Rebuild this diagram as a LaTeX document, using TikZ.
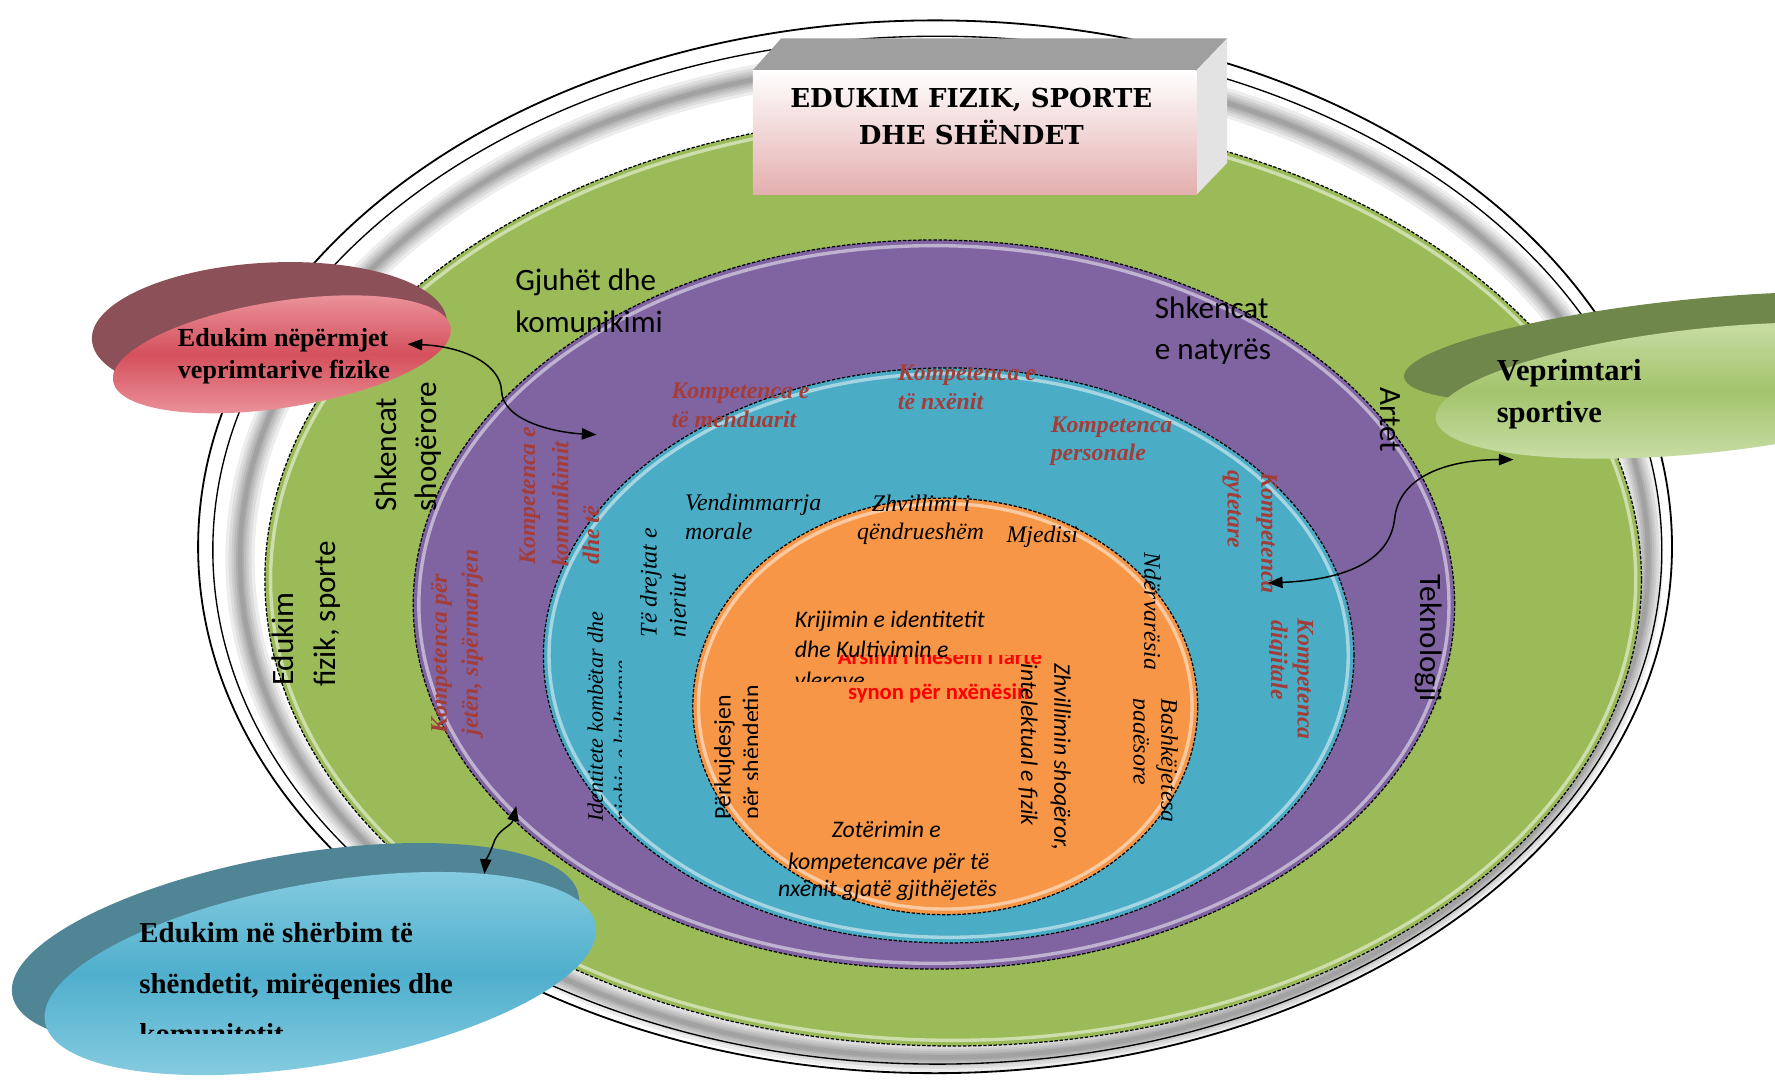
\documentclass[tikz,border=0pt]{standalone}
\usepackage{fontspec}
\setmainfont{Liberation Serif}
\newfontfamily\calfont{Carlito}
\newfontfamily\titlefont{DejaVu Serif}
\usetikzlibrary{arrows.meta}
\definecolor{cgreen}{HTML}{9BBB59}
\definecolor{cpurple}{HTML}{8064A2}
\definecolor{cblue}{HTML}{4BACC6}
\definecolor{corange}{HTML}{F79646}
\definecolor{ckomp}{HTML}{A33D3A}
\definecolor{cpink}{HTML}{E4AEAE}
\definecolor{redrim}{HTML}{8C5058}
\definecolor{redface}{HTML}{D4505C}
\definecolor{redlight}{HTML}{EE9AA2}
\definecolor{greenrim}{HTML}{70874C}
\definecolor{greenface}{HTML}{A3C46C}
\definecolor{greenlight}{HTML}{CDE0AC}
\definecolor{bluerim}{HTML}{4F8595}
\definecolor{blueface}{HTML}{4FAFCD}
\definecolor{bluelight}{HTML}{8CCFE2}
\begin{document}
\begin{tikzpicture}[x=1pt,y=-1pt,
  border/.style={draw=black, line width=1.1pt, dash pattern=on 3pt off 1.5pt},
  glowline/.style={draw=white, line width=3pt, opacity=0.5},
  sanslbl/.style={font=\calfont\fontsize{27.5}{32}\selectfont, inner sep=0pt},
  komp/.style={font=\bfseries\itshape\fontsize{21}{25}\selectfont, text=ckomp, inner sep=0pt},
  seri/.style={font=\itshape\fontsize{21}{25}\selectfont, inner sep=0pt},
  calit/.style={font=\calfont\itshape\fontsize{21}{25}\selectfont, inner sep=0pt},
  calup/.style={font=\calfont\fontsize{21}{25}\selectfont, inner sep=0pt},
  redc/.style={font=\calfont\bfseries\fontsize{20}{24}\selectfont, text=red, inner sep=0pt},
  disctxt/.style={font=\bfseries\fontsize{23}{27}\selectfont, inner sep=0pt, anchor=base west},
  ttl/.style={font=\titlefont\bfseries\fontsize{23}{27}\selectfont, inner sep=0pt, anchor=base},
  upr/.style={rotate=90, anchor=west},
  dnr/.style={rotate=-90, anchor=west},
  bw/.style={anchor=base west},
  link/.style={line width=1.3pt, {Triangle[length=13pt,width=10pt]}-{Triangle[length=13pt,width=10pt]}}
]
\useasboundingbox (0,0) rectangle (1568,955);
\fill[white] (0,0) rectangle (1568,955);

% outer white ring
\fill[white] (826,483) ellipse[x radius=651pt, y radius=465pt];
\foreach \w in {26,20,15,11,7,4} {
  \draw[black, line width=\w pt, opacity=0.07] (834,494) ellipse[x radius=622pt, y radius=440pt];
}
\draw[black, line width=1.6pt] (826,483) ellipse[x radius=651pt, y radius=465pt];
\draw[black, line width=1.2pt] (828,486) ellipse[x radius=640pt, y radius=454pt];

% green
\fill[cgreen] (842,512) ellipse[x radius=608pt, y radius=412pt];
\draw[glowline] (842,512) ellipse[x radius=603pt, y radius=407pt];
\draw[border] (842,512) ellipse[x radius=608pt, y radius=412pt];
% purple
\fill[cpurple] (825,534) ellipse[x radius=460pt, y radius=322pt];
\draw[glowline] (825,534) ellipse[x radius=455pt, y radius=317pt];
\draw[border] (825,534) ellipse[x radius=460pt, y radius=322pt];
% blue
\fill[cblue] (838,579) ellipse[x radius=358pt, y radius=254pt];
\draw[glowline] (838,579) ellipse[x radius=353pt, y radius=249pt];
\draw[border] (838,579) ellipse[x radius=358pt, y radius=254pt];
% orange
\fill[corange] (835,624) ellipse[x radius=223pt, y radius=184pt];
\draw[glowline] (835,624) ellipse[x radius=218pt, y radius=179pt];
\draw[border] (835,624) ellipse[x radius=223pt, y radius=184pt];

% green ring texts
\node[sanslbl,bw] (gj1) at (455,257) {Gjuhët dhe};
\node[sanslbl,bw] (gj2) at (455,294) {komunikimi};
\node[sanslbl,bw] (sn1) at (1020,281) {Shkencat};
\node[sanslbl,bw] (sn2) at (1020,318) {e natyrës};
\node[sanslbl,dnr] (art) at (1228,342) {Artet};
\node[sanslbl,dnr] (tek) at (1262,507) {Teknologji};
\node[sanslbl,upr] (ss1) at (341,452) {Shkencat};
\node[sanslbl,upr] (ss2) at (378,452) {shoqërore};
\node[sanslbl,upr] (ef1) at (250,606) {Edukim};
\node[sanslbl,upr] (ef2) at (289,607) {fizik, sporte};

% purple ring texts
\node[komp,bw] (km1) at (593,352) {Kompetenca e};
\node[komp,bw] (km2) at (593,378) {të menduarit};
\node[komp,bw] (kn1) at (793,336) {Kompetenca e};
\node[komp,bw] (kn2) at (793,362) {të nxënit};
\node[komp,bw] (kp1) at (928,382) {Kompetenca};
\node[komp,bw] (kp2) at (928,407) {personale};
\node[komp,upr] (kk1) at (468,499) {Kompetenca e};
\node[komp,upr] (kk2) at (495,501) {komunikimit};
\node[komp,upr] (kk3) at (522,499) {dhe të};
\node[komp,upr] (kj1) at (390,648) {Kompetenca për};
\node[komp,upr] (kj2) at (417,650) {jetën, sipërmarrjen};
\node[komp,dnr] (kq1) at (1119,417) {Kompetenca};
\node[komp,dnr] (kq2) at (1088,415) {qytetare};
\node[komp,dnr] (kd1) at (1151,546) {Kompetenca};
\begin{scope}
\clip (1121,530) rectangle (1145,680);
\node[komp,dnr] (kd2) at (1128,548) {digjitale};
\end{scope}

% blue ring texts
\node[seri,bw] (vm1) at (605,451) {Vendimmarrja};
\node[seri,bw] (vm2) at (605,477) {morale};
\node[seri,bw] (zq1) at (770,452) {Zhvillimi i};
\node[seri,bw] (zq2) at (757,477) {qëndrueshëm};
\node[seri,bw] (mj) at (889,479) {Mjedisi};
\node[seri,upr] (dr1) at (575,563) {Të drejtat e};
\begin{scope}
\clip (585,440) rectangle (606,580);
\node[seri,upr] (dr2) at (601,563) {njeriut};
\end{scope}
\node[seri,upr,font=\itshape\fontsize{19.5}{24}\selectfont] (id1) at (526,726) {Identitete kombëtar dhe};
\begin{scope}
\clip (536,530) rectangle (549,740);
\node[seri,upr,font=\itshape\fontsize{19.5}{24}\selectfont] (id2) at (551,726) {njohja e kulturave};
\end{scope}
\node[calup,upr] (pk1) at (640,724) {Përkujdesjen};
\begin{scope}
\clip (652,590) rectangle (669,740);
\node[calup,upr] (pk2) at (665,724) {për shëndetin};
\end{scope}
\node[seri,dnr] (nd) at (1018,488) {Ndërvarësia};
\node[seri,dnr] (bp1) at (1031,617) {Bashkëjetesa};
\begin{scope}
\clip (1001,600) rectangle (1018,740);
\node[seri,dnr] (bp2) at (1006,617) {paqësore};
\end{scope}

% orange texts
\begin{scope}
\clip (730,579) rectangle (960,600);
\node[redc,bw] (rs1) at (740,587) {Arsimi i mesëm i lartë};
\end{scope}
\node[redc,bw] (rs2) at (749,618) {synon për nxënësin};
\node[calit,bw] (kr1) at (702,554) {Krijimin e identitetit};
\node[calit,bw] (kr2) at (702,581) {dhe Kultivimin e};
\begin{scope}
\clip (690,585) rectangle (800,602);
\node[calit,bw] (kr3) at (702,608) {vlerave};
\end{scope}
\node[calit,dnr] (zs1) at (937,586) {Zhvillimin shoqëror,};
\node[calit,dnr] (zs2) at (908,586) {intelektual e fizik};
\node[calit,anchor=base] (zo1) at (783,740) {Zotërimin e};
\node[calit,anchor=base] (zo2) at (785,768) {kompetencave për të};
\node[calit,anchor=base] (zo3) at (784,792) {nxënit gjatë gjithëjetës};

% title box
\fill[gray!75] (665,62) -- (690,34) -- (1084,34) -- (1057,62) -- cycle;
\fill[gray!22] (1057,62) -- (1084,34) -- (1084,144) -- (1057,172) -- cycle;
\shade[top color=white, bottom color=cpink] (665,62) rectangle (1057,172);
\node[ttl] (t1) at (858,95) {EDUKIM FIZIK, SPORTE};
\node[ttl] (t2) at (858,128) {DHE SHËNDET};

% red disc
\fill[redrim, rotate around={3:(238,292)}] (238,292) ellipse[x radius=157pt, y radius=60pt];
\shade[top color=redlight, bottom color=redlight, middle color=redface, rotate around={9:(249,313)}] (249,313) ellipse[x radius=151pt, y radius=47pt];
\node[disctxt] (rd1) at (157,306) {Edukim nëpërmjet};
\node[disctxt] (rd2) at (157,334) {veprimtarive fizike};

% green disc
\fill[greenrim, rotate around={6:(1489,307)}] (1489,307) ellipse[x radius=250pt, y radius=42pt];
\shade[top color=greenlight, bottom color=greenlight, middle color=greenface, rotate around={6:(1507,345)}] (1507,345) ellipse[x radius=240pt, y radius=55pt];
\node[disctxt,font=\bfseries\fontsize{27}{31}\selectfont] (gd1) at (1322,336) {Veprimtari};
\node[disctxt,font=\bfseries\fontsize{27}{31}\selectfont] (gd2) at (1322,373) {sportive};

% blue disc
\fill[bluerim, rotate around={10:(261,835)}] (261,835) ellipse[x radius=254pt, y radius=80pt];
\shade[top color=bluelight, bottom color=bluelight, middle color=blueface, rotate around={10:(283,860)}] (283,860) ellipse[x radius=247pt, y radius=80pt];
\node[disctxt,font=\bfseries\fontsize{25.5}{30}\selectfont] (bd1) at (123,833) {Edukim në shërbim të};
\node[disctxt,font=\bfseries\fontsize{25.5}{30}\selectfont] (bd2) at (123,878) {shëndetit, mirëqenies dhe};
\begin{scope}
\clip (100,890) rectangle (600,913);
\node[disctxt,font=\bfseries\fontsize{25.5}{30}\selectfont] (bd3) at (123,922) {komunitetit};
\end{scope}

% connectors
\coordinate (a1s) at (360,304);
\coordinate (a1e) at (527,384);
\coordinate (a2s) at (1120,515);
\coordinate (a2e) at (1337,406);
\coordinate (a3s) at (456,712);
\coordinate (a3e) at (428,772);
\draw[link] (a1s) .. controls (410,306) and (442,322) .. (443,345) .. controls (444,372) and (490,382) .. (a1e);
\draw[link] (a2s) .. controls (1190,512) and (1228,495) .. (1232,458) .. controls (1236,420) and (1280,406) .. (a2e);
\draw[link] (a3s) .. controls (452,730) and (440,732) .. (436,745) .. controls (432,756) and (429,760) .. (a3e);
\end{tikzpicture}
\end{document}
